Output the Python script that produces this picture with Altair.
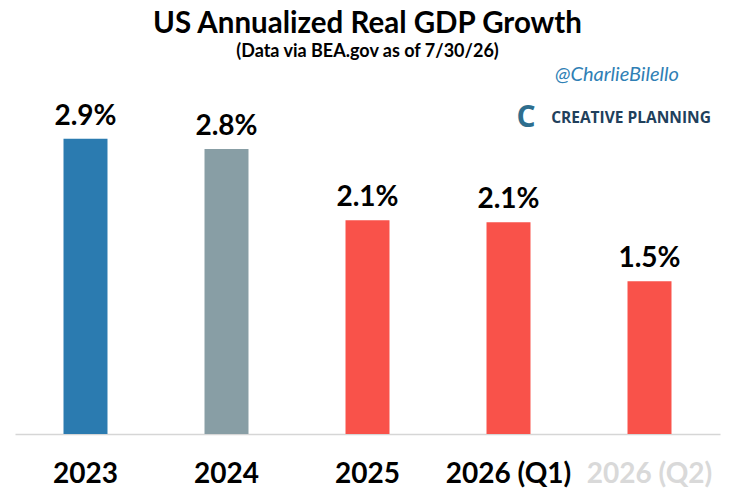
import altair as alt
import pandas as pd

categories = ["2023", "2024", "2025", "2026 (Q1)", "2026 (Q2)"]
values = [2.9, 2.8, 2.1, 2.08, 1.5]
labels = ["2.9%", "2.8%", "2.1%", "2.1%", "1.5%"]
colors = ["#2b7bb0", "#889ea5", "#f9524a", "#f9524a", "#f9524a"]

df = pd.DataFrame({"cat": categories, "val": values, "label": labels, "color": colors})

x_enc = alt.X(
    "cat:N",
    sort=categories,
    scale=alt.Scale(paddingInner=0.688, paddingOuter=0.344),
    axis=alt.Axis(
        title=None,
        ticks=False,
        tickSize=0,
        domainColor="#d6d6d6",
        domainWidth=1.5,
        labelAngle=0,
        labelFont="Lato",
        labelFontWeight="bold",
        labelFontSize=28,
        labelColor={"condition": {"test": "datum.label == '2026 (Q2)'", "value": "#d9d9d9"}, "value": "black"},
        labelPadding=48,
        labelBaseline="alphabetic",
    ),
)
y_enc = alt.Y("val:Q", scale=alt.Scale(domain=[0, 3.595], nice=False, zero=True), axis=None)

bars = alt.Chart(df).mark_bar().encode(
    x=x_enc, y=y_enc, color=alt.Color("color:N", scale=None)
)
text = alt.Chart(df).mark_text(
    dy=-14, baseline="alphabetic", font="Lato", fontWeight="bold", fontSize=28, color="black"
).encode(x=alt.X("cat:N", sort=categories), y="val:Q", text="label:N")

wm_df = pd.DataFrame({"h": ["@CharlieBilello"], "c": ["CREATIVE PLANNING"], "l": ["C"]})
handle = alt.Chart(wm_df).mark_text(
    font="Lato", fontStyle="italic", fontSize=20, color="#2f7fb5", align="center", baseline="middle"
).encode(text="h:N", x=alt.value(602), y=alt.value(7))
brand = alt.Chart(wm_df).mark_text(
    font="Open Sans", fontWeight="bold", fontSize=15.5, color="#21405c", align="center", baseline="middle"
).encode(text="c:N", x=alt.value(616), y=alt.value(50))
logo = alt.Chart(wm_df).mark_text(
    font="Open Sans", fontWeight="bold", fontSize=30, color="#2e6e8e", align="center", baseline="middle"
).encode(text="l:N", x=alt.value(511), y=alt.value(50))

chart = alt.layer(bars, text, handle, brand, logo).properties(
    width=705,
    height=366,
    padding={"left": 7, "top": 60, "right": 6, "bottom": 54},
    autosize=alt.AutoSizeParams(type="none"),
    title=alt.TitleParams(
        text="US Annualized Real GDP Growth",
        subtitle="(Data via BEA.gov as of 7/30/26)",
        font="Lato",
        fontSize=29.5,
        fontWeight="bold",
        color="black",
        subtitleFont="Lato",
        subtitleFontSize=18,
        subtitleFontWeight="bold",
        subtitleColor="black",
        subtitlePadding=4,
        anchor="middle",
        offset=3,
    ),
).configure_view(stroke=None)

chart.save("out.html", embed_options={"renderer": "svg", "actions": False})
